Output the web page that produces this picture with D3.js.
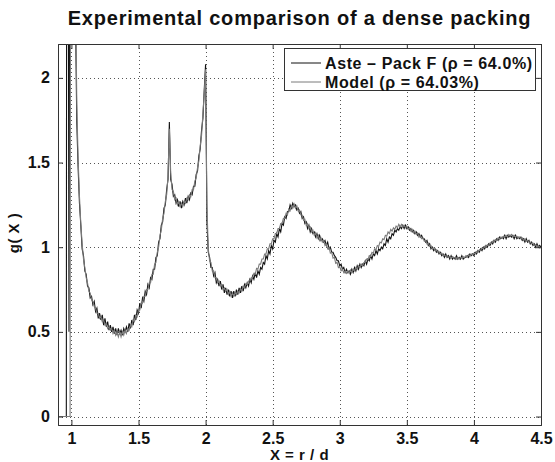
<!DOCTYPE html>
<html><head><meta charset="utf-8">
<script src="https://cdn.jsdelivr.net/npm/d3@7"></script>
<style>body{margin:0;background:#fff}svg{display:block}text{font-family:Arial,"Liberation Sans",Helvetica,sans-serif;font-weight:bold;fill:#111}</style>
</head><body><div id="chart"></div>
<script>
const title = "Experimental comparison of a dense packing";
const xLabel = "X = r / d";
const yLabel = "g( X )";
const seriesNames = ["Aste \u2013 Pack F (\u03c1 = 64.0%)", "Model (\u03c1 = 64.03%)"];
const xTicks = [1, 1.5, 2, 2.5, 3, 3.5, 4, 4.5];
const yTicks = [0, 0.5, 1, 1.5, 2];
const xTickLabels = ["1", "1.5", "2", "2.5", "3", "3.5", "4", "4.5"];
const yTickLabels = ["0", "0.5", "1", "1.5", "2"];

// contact region (before regular sampling)
const asteContactX = [0.90, 0.962, 0.965, 0.975, 0.982, 0.988, 1.02];
const asteContactY = [0, 0, 3.5, 3.5, 0.5, 3.5, 3.2];
const modelContactX = [0.90, 0.99, 0.995, 1.025];
const modelContactY = [0, 0, 4.0, 3.5];

// regular samples from X = 1.03 to 4.50, step 0.01
const sampleStart = 1.03, sampleStep = 0.01;
const aste = [
2.40,1.74,1.47,1.26,1.13,0.99,0.95,
0.86,0.84,0.77,0.76,0.70,0.71,0.66,0.68,0.62,0.64,
0.58,0.61,0.57,0.60,0.54,0.58,0.53,0.56,0.51,0.54,
0.50,0.53,0.49,0.52,0.48,0.52,0.49,0.51,0.48,0.52,
0.50,0.53,0.50,0.55,0.52,0.57,0.54,0.60,0.57,0.63,
0.61,0.67,0.64,0.70,0.68,0.74,0.72,0.78,0.76,0.82,
0.81,0.87,0.87,0.94,0.95,1.03,1.05,1.13,1.15,1.23,
1.25,1.34,1.40,1.74,1.40,1.37,1.30,1.31,1.26,1.28,
1.24,1.27,1.23,1.27,1.25,1.29,1.26,1.30,1.28,1.32,
1.31,1.36,1.36,1.43,1.45,1.54,1.58,1.69,1.76,1.93,
2.08,1.15,0.97,0.94,0.88,0.88,0.83,0.85,0.79,0.81,
0.77,0.80,0.75,0.78,0.73,0.76,0.72,0.75,0.71,0.74,
0.70,0.74,0.71,0.75,0.72,0.76,0.73,0.77,0.74,0.78,
0.76,0.79,0.77,0.81,0.79,0.83,0.81,0.85,0.82,0.86,
0.84,0.88,0.87,0.91,0.90,0.95,0.93,0.98,0.96,1.01,
0.99,1.04,1.03,1.08,1.06,1.11,1.09,1.14,1.13,1.18,
1.17,1.21,1.21,1.25,1.23,1.26,1.24,1.25,1.22,1.23,
1.20,1.21,1.17,1.18,1.14,1.15,1.11,1.13,1.09,1.11,
1.08,1.09,1.06,1.08,1.05,1.07,1.04,1.05,1.03,1.04,
1.01,1.03,0.99,1.00,0.97,0.97,0.95,0.94,0.92,0.92,
0.89,0.90,0.87,0.88,0.85,0.87,0.85,0.86,0.84,0.87,
0.85,0.88,0.86,0.89,0.87,0.90,0.88,0.90,0.89,0.92,
0.90,0.93,0.92,0.95,0.93,0.96,0.95,0.98,0.96,0.99,
0.98,1.00,0.99,1.02,1.01,1.05,1.03,1.06,1.05,1.08,
1.07,1.10,1.09,1.11,1.10,1.12,1.11,1.13,1.11,1.13,
1.11,1.12,1.10,1.11,1.09,1.10,1.08,1.09,1.07,1.08,
1.06,1.07,1.05,1.05,1.03,1.04,1.01,1.02,0.99,1.00,
0.98,0.99,0.97,0.98,0.96,0.97,0.95,0.96,0.94,0.96,
0.94,0.95,0.93,0.95,0.93,0.94,0.93,0.95,0.93,0.94,
0.93,0.95,0.93,0.94,0.94,0.95,0.94,0.96,0.95,0.96,
0.95,0.97,0.96,0.98,0.97,0.99,0.98,1.00,0.99,1.01,
1.00,1.02,1.01,1.03,1.02,1.04,1.03,1.05,1.04,1.06,
1.05,1.06,1.05,1.07,1.05,1.07,1.06,1.07,1.06,1.07,
1.05,1.07,1.05,1.06,1.05,1.06,1.04,1.05,1.03,1.05,
1.03,1.04,1.02,1.03,1.01,1.02,1.00,1.02,1.00,1.01,1.00
];
const model = [
2.60,1.85,1.52,1.30,1.14,1.02,0.93,
0.88,0.82,0.79,0.74,0.73,0.69,0.68,0.65,0.64,0.61,
0.61,0.58,0.59,0.56,0.57,0.54,0.55,0.52,0.53,0.51,
0.52,0.49,0.51,0.48,0.50,0.47,0.50,0.47,0.50,0.48,
0.51,0.49,0.52,0.51,0.54,0.53,0.57,0.56,0.60,0.59,
0.63,0.63,0.67,0.67,0.71,0.71,0.75,0.75,0.79,0.79,
0.84,0.84,0.90,0.91,0.97,1.00,1.07,1.10,1.17,1.20,
1.27,1.31,1.42,1.70,1.44,1.34,1.33,1.28,1.29,1.25,
1.27,1.24,1.26,1.24,1.27,1.26,1.29,1.28,1.31,1.30,
1.34,1.34,1.39,1.41,1.47,1.51,1.60,1.66,1.79,1.91,
2.05,1.25,0.99,0.92,0.91,0.86,0.86,0.82,0.82,0.79,
0.80,0.77,0.78,0.75,0.76,0.74,0.75,0.72,0.74,0.71,
0.73,0.71,0.73,0.72,0.74,0.73,0.755,0.74,0.77,0.76,
0.785,0.78,0.80,0.80,0.82,0.82,0.845,0.84,0.875,0.87,
0.90,0.90,0.93,0.93,0.96,0.96,0.99,0.99,1.02,1.02,
1.05,1.05,1.08,1.08,1.11,1.11,1.14,1.14,1.17,1.17,
1.20,1.19,1.225,1.215,1.245,1.23,1.255,1.23,1.245,1.215,
1.22,1.19,1.19,1.16,1.165,1.13,1.14,1.11,1.12,1.09,
1.10,1.07,1.085,1.055,1.07,1.04,1.055,1.03,1.04,1.01,
1.02,0.99,1.00,0.965,0.97,0.935,0.94,0.905,0.91,0.88,
0.885,0.86,0.87,0.85,0.86,0.845,0.86,0.845,0.865,0.85,
0.87,0.86,0.88,0.87,0.89,0.88,0.90,0.89,0.91,0.91,
0.93,0.925,0.95,0.945,0.97,0.965,0.99,0.985,1.01,1.005,
1.03,1.025,1.05,1.045,1.07,1.065,1.09,1.08,1.105,1.095,
1.115,1.105,1.125,1.115,1.135,1.12,1.135,1.12,1.13,1.115,
1.125,1.105,1.115,1.095,1.105,1.085,1.095,1.075,1.085,1.06,
1.07,1.05,1.055,1.035,1.04,1.02,1.025,1.005,1.01,0.99,
0.995,0.98,0.985,0.97,0.975,0.96,0.965,0.95,0.955,0.945,
0.95,0.94,0.945,0.935,0.945,0.935,0.94,0.93,0.94,0.93,
0.94,0.935,0.945,0.935,0.95,0.94,0.955,0.945,0.96,0.955,
0.965,0.96,0.975,0.97,0.985,0.98,0.995,0.99,1.005,1.00,
1.015,1.01,1.025,1.02,1.035,1.03,1.045,1.04,1.055,1.045,
1.06,1.055,1.065,1.06,1.07,1.06,1.075,1.065,1.075,1.06,
1.07,1.06,1.065,1.055,1.06,1.05,1.055,1.04,1.05,1.035,
1.04,1.03,1.03,1.02,1.025,1.01,1.015,1.005,1.01,0.995,1.00
];

const W = 555, H = 462;
const margin = {left: 58, right: 14, top: 44, bottom: 37};
const svg = d3.select("#chart").append("svg").attr("width", W).attr("height", H);
const x = d3.scaleLinear().domain([0.9, 4.5]).range([margin.left, W - margin.right]);
const y = d3.scaleLinear().domain([-0.05, 2.2]).range([H - margin.bottom, margin.top]);
const x0 = margin.left, x1 = W - margin.right, y0 = H - margin.bottom, y1 = margin.top;

// grid
const grid = svg.append("g").attr("stroke", "#555").attr("stroke-width", 1).attr("stroke-dasharray", "1,3");
grid.selectAll(".vg").data(xTicks.slice(0, -1)).join("line")
  .attr("x1", d => Math.round(x(d)) + 0.5).attr("x2", d => Math.round(x(d)) + 0.5)
  .attr("y1", y1).attr("y2", y0);
grid.selectAll(".hg").data(yTicks).join("line")
  .attr("y1", d => Math.round(y(d)) + 0.5).attr("y2", d => Math.round(y(d)) + 0.5)
  .attr("x1", x0).attr("x2", x1);

// data
svg.append("clipPath").attr("id", "clip").append("rect")
  .attr("x", x0).attr("y", y1).attr("width", x1 - x0).attr("height", y0 - y1);
function build(cx, cy, vals) {
  const pts = cx.map((v, i) => [v, cy[i]]);
  vals.forEach((v, i) => pts.push([sampleStart + i * sampleStep, v]));
  return pts;
}
const line = d3.line().x(d => x(d[0])).y(d => y(d[1]));
const gData = svg.append("g").attr("clip-path", "url(#clip)");
gData.append("path").datum(build(asteContactX, asteContactY, aste))
  .attr("d", line).attr("fill", "none").attr("stroke", "#111").attr("stroke-width", 1.1);
gData.append("path").datum(build(modelContactX, modelContactY, model))
  .attr("d", line).attr("fill", "none").attr("stroke", "#7a7a7a").attr("stroke-width", 1.1);

// axes (box with inward ticks)
const axB = d3.axisBottom(x).tickValues(xTicks).tickSize(-5).tickPadding(8).tickFormat((d, i) => xTickLabels[i]);
const axT = d3.axisTop(x).tickValues(xTicks).tickSize(-5).tickFormat("");
const axL = d3.axisLeft(y).tickValues(yTicks).tickSize(-5).tickPadding(8).tickFormat((d, i) => yTickLabels[i]);
const axR = d3.axisRight(y).tickValues(yTicks).tickSize(-5).tickFormat("");
function style(g) {
  g.selectAll("path").attr("stroke", "#333");
  g.selectAll("line").attr("stroke", "#333");
  g.selectAll("text").attr("font-size", 16).attr("font-weight", "bold").attr("fill", "#111")
    .attr("font-family", "Arial, 'Liberation Sans', sans-serif");
}
svg.append("g").attr("transform", `translate(0,${y0})`).call(axB).call(style);
svg.append("g").attr("transform", `translate(0,${y1})`).call(axT).call(style);
svg.append("g").attr("transform", `translate(${x0},0)`).call(axL).call(style);
svg.append("g").attr("transform", `translate(${x1},0)`).call(axR).call(style);

// title and labels
svg.append("text").attr("x", (x0 + x1) / 2).attr("y", 25).attr("text-anchor", "middle")
  .attr("font-size", 20).attr("letter-spacing", 0.8).text(title);
svg.append("text").attr("x", (x0 + x1) / 2).attr("y", 460).attr("text-anchor", "middle")
  .attr("font-size", 15).attr("letter-spacing", 0.5).text(xLabel);
svg.append("text").attr("transform", "translate(19,233) rotate(-90)").attr("text-anchor", "middle")
  .attr("font-size", 15).attr("letter-spacing", 0.5).text(yLabel);

// legend
const lg = svg.append("g");
lg.append("rect").attr("x", 284.5).attr("y", 48.5).attr("width", 251).attr("height", 42)
  .attr("fill", "#fff").attr("stroke", "#333").attr("stroke-width", 1);
const lcol = ["#111", "#7a7a7a"];
seriesNames.forEach((name, i) => {
  const yy = 63 + i * 19;
  lg.append("line").attr("x1", 291).attr("x2", 321).attr("y1", yy).attr("y2", yy)
    .attr("stroke", lcol[i]).attr("stroke-width", 1);
  lg.append("text").attr("x", 325).attr("y", yy + 5.5).attr("font-size", 16)
    .attr("letter-spacing", 0.6).text(name);
});
</script>
</body></html>
